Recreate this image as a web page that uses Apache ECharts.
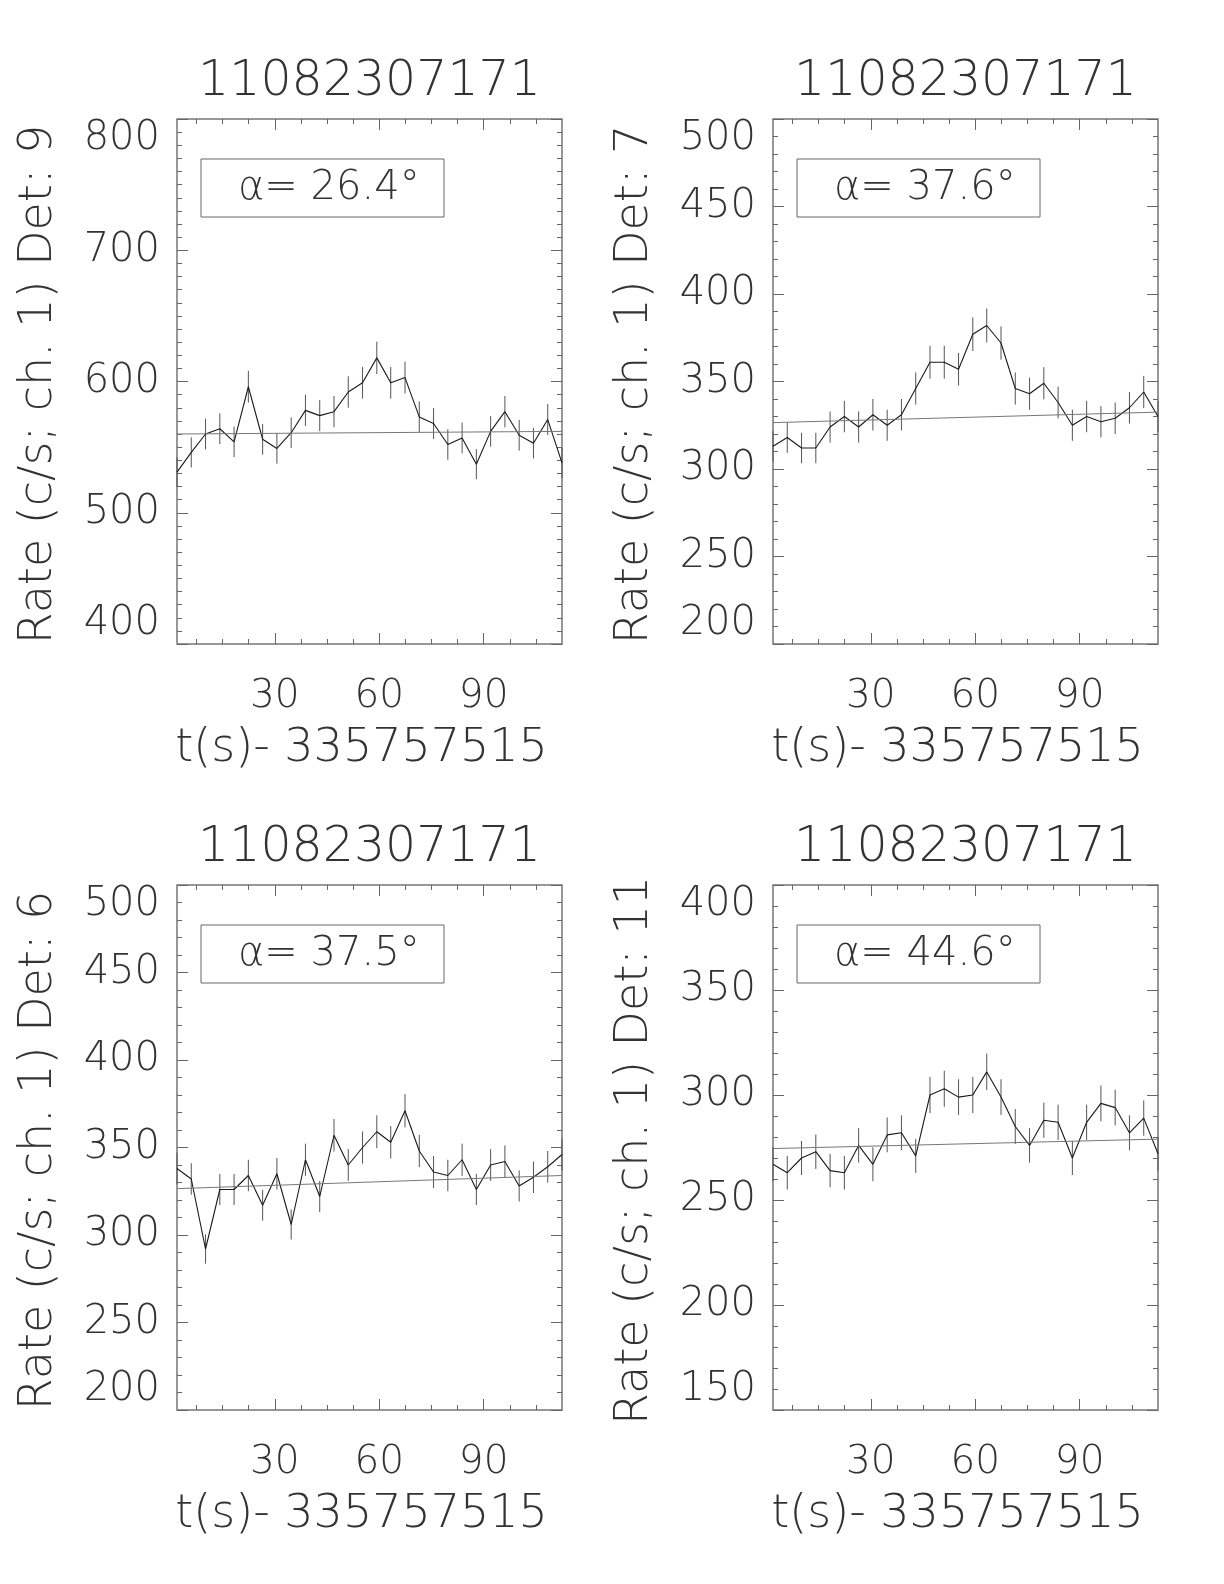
<!DOCTYPE html>
<html>
<head>
<meta charset="utf-8">
<script src="https://cdn.jsdelivr.net/npm/echarts@6.0.0/dist/echarts.min.js"></script>
<style>
  html, body { margin: 0; padding: 0; background: #fff; }
  #chart { width: 1224px; height: 1584px; }
</style>
</head>
<body>
<div id="chart"></div>
<script>
// time of each bin, s after 335757515
var tSec = [1.9, 6.0, 10.1, 14.2, 18.3, 22.4, 26.5, 30.6, 34.7, 38.8, 42.9, 47.0, 51.1, 55.2,
            59.3, 63.3, 67.4, 71.5, 75.6, 79.7, 83.8, 87.9, 92.0, 96.1, 100.2, 104.3, 108.4, 112.5];

var detectors = ['9', '7', '6', '11'];
var alphas = ['26.4', '37.6', '37.5', '44.6'];
var burstId = '11082307171';
var tZero = '335757515';

var rateDet9 = [531, 546, 560, 564, 554, 596, 556, 549, 561, 578, 574, 577, 592, 599,
                618, 599, 603, 573, 568, 552, 557, 537, 562, 577, 559, 553, 571, 538];
var errDet9 = [11.4, 11.5, 11.7, 11.7, 11.6, 12.1, 11.7, 11.6, 11.7, 11.9, 11.8, 11.9, 12.0, 12.1,
               12.3, 12.1, 12.1, 11.8, 11.8, 11.6, 11.7, 11.5, 11.7, 11.9, 11.7, 11.6, 11.8, 11.5];
var bkgDet9 = [560, 562];

var rateDet7 = [313, 318, 312, 312, 324, 330, 324, 331, 325, 331, 346, 361, 361, 357,
                377, 382, 372, 346, 343, 349, 338, 325, 330, 327, 329, 335, 344, 330];
var errDet7 = [8.7, 8.8, 8.7, 8.7, 8.9, 9.0, 8.9, 9.0, 8.9, 9.0, 9.2, 9.4, 9.4, 9.3,
               9.6, 9.7, 9.5, 9.2, 9.2, 9.2, 9.1, 8.9, 9.0, 8.9, 9.0, 9.0, 9.2, 9.0];
var bkgDet7 = [326.5, 332.5];

var rateDet6 = [338, 332, 292, 326, 326, 334, 317, 335, 306, 343, 322, 357, 340, 350,
                359, 353, 371, 348, 336, 334, 343, 326, 340, 342, 328, 333, 339, 346];
var errDet6 = [9.1, 9.0, 8.4, 8.9, 8.9, 9.0, 8.8, 9.0, 8.6, 9.2, 8.9, 9.3, 9.1, 9.2,
               9.4, 9.3, 9.5, 9.2, 9.1, 9.0, 9.2, 8.9, 9.1, 9.2, 8.9, 9.0, 9.1, 9.2];
var bkgDet6 = [326.5, 334];

var rateDet11 = [267, 263, 270, 273, 264, 263, 276, 267, 281, 282, 271, 300, 303, 299,
                 300, 311, 299, 285, 276, 288, 287, 270, 287, 296, 294, 282, 289, 272];
var errDet11 = [8.1, 8.0, 8.1, 8.2, 8.0, 8.0, 8.2, 8.1, 8.3, 8.3, 8.1, 8.6, 8.6, 8.5,
                8.6, 8.7, 8.5, 8.3, 8.2, 8.4, 8.4, 8.1, 8.4, 8.5, 8.5, 8.3, 8.4, 8.1];
var bkgDet11 = [274.5, 279];

// y axis: min, max, major step, minor splits
var yMin = [400, 200, 200, 150];
var yMax = [800, 500, 500, 400];
var yStep = [100, 50, 50, 50];
var yMinorSplit = [10, 5, 5, 5];

var xMajor = [30, 60, 90];
var xMinor = [7.5, 15, 22.5, 37.5, 45, 52.5, 67.5, 75, 82.5, 97.5, 105];

var rates = [rateDet9, rateDet7, rateDet6, rateDet11];
var errs = [errDet9, errDet7, errDet6, errDet11];
var bkgs = [bkgDet9, bkgDet7, bkgDet6, bkgDet11];

var FONT = 'DejaVu Sans';
var WEIGHT = 200;
var TXT = '#333';
var FRAME = '#777';

var panels = [
  { left: 177, top: 119 },
  { left: 773, top: 119 },
  { left: 177, top: 885 },
  { left: 773, top: 885 }
];
var W = 385, H = 525;

var grid = [], xAxis = [], yAxis = [], series = [], graphic = [];

panels.forEach(function (p, i) {
  grid.push({ left: p.left, top: p.top, width: W, height: H, show: true,
              borderColor: FRAME, borderWidth: 1.5, backgroundColor: 'transparent' });

  function xa(pos, vals, len, labels) {
    xAxis.push({
      type: 'value', gridIndex: i, position: pos, min: tSec[0], max: tSec[tSec.length - 1],
      axisLine: { show: false }, splitLine: { show: false },
      axisTick: { show: true, inside: true, length: len, customValues: vals,
                  lineStyle: { color: '#666', width: 1 } },
      axisLabel: labels ? { show: true, customValues: vals, margin: 33, fontSize: 39,
                            fontFamily: FONT, fontWeight: WEIGHT, color: TXT }
                        : { show: false }
    });
  }
  xa('bottom', xMajor, 11, true);
  xa('bottom', xMinor, 5, false);
  xa('top', xMajor, 11, false);
  xa('top', xMinor, 5, false);

  function ya(pos, labels) {
    yAxis.push({
      type: 'value', gridIndex: i, position: pos, min: yMin[i], max: yMax[i], interval: yStep[i],
      axisLine: { show: false }, splitLine: { show: false },
      axisTick: { show: true, inside: true, length: 11, lineStyle: { color: '#666', width: 1 } },
      minorTick: { show: true, splitNumber: yMinorSplit[i], length: 5,
                   lineStyle: { color: '#666', width: 1 } },
      axisLabel: labels ? { show: true, margin: 17, fontSize: 40, fontFamily: FONT,
                            fontWeight: WEIGHT, color: TXT,
                            verticalAlignMaxLabel: 'top', verticalAlignMinLabel: 'bottom' }
                        : { show: false }
    });
  }
  ya('left', true);
  ya('right', false);

  var pts = tSec.map(function (t, k) { return [t, rates[i][k], errs[i][k]]; });

  series.push({
    type: 'custom', xAxisIndex: 4 * i, yAxisIndex: 2 * i, silent: true,
    data: pts,
    encode: { x: 0, y: 1 },
    renderItem: function (params, api) {
      var x = api.value(0), y = api.value(1), e = api.value(2);
      var a = api.coord([x, y - e]);
      var b = api.coord([x, y + e]);
      return { type: 'line', shape: { x1: a[0], y1: a[1], x2: b[0], y2: b[1] },
               style: { stroke: '#555', lineWidth: 1 } };
    }
  });
  series.push({
    type: 'line', xAxisIndex: 4 * i, yAxisIndex: 2 * i, silent: true,
    data: pts.map(function (d) { return [d[0], d[1]]; }),
    showSymbol: false, symbol: 'none',
    lineStyle: { color: '#1a1a1a', width: 1.1 }
  });
  series.push({
    type: 'line', xAxisIndex: 4 * i, yAxisIndex: 2 * i, silent: true,
    data: [[tSec[0], bkgs[i][0]], [tSec[tSec.length - 1], bkgs[i][1]]],
    showSymbol: false, symbol: 'none',
    lineStyle: { color: '#777', width: 1 }
  });

  // title, axis names, alpha box
  graphic.push({ type: 'text', x: p.left + W / 2, y: p.top - 37,
    style: { text: burstId, fontSize: 49, fontFamily: FONT, fontWeight: WEIGHT, fill: TXT,
             align: 'center', verticalAlign: 'middle' } });
  graphic.push({ type: 'text', x: p.left + W / 2 - 8, y: p.top + H + 105,
    style: { text: 't(s)- ' + tZero, fontSize: 46, fontFamily: FONT, fontWeight: WEIGHT, fill: TXT,
             align: 'center', verticalAlign: 'middle' } });
  graphic.push({ type: 'text', x: p.left - 138, y: p.top + H / 2 + 3, rotation: Math.PI / 2,
    style: { text: 'Rate (c/s; ch. 1) Det: ' + detectors[i], fontSize: 46, fontFamily: FONT,
             fontWeight: WEIGHT, fill: TXT, align: 'center', verticalAlign: 'middle' } });
  graphic.push({ type: 'rect', shape: { x: p.left + 24, y: p.top + 40, width: 243, height: 58 },
    style: { fill: 'none', stroke: '#666', lineWidth: 1 } });
  graphic.push({ type: 'text', x: p.left + 61, y: p.top + 70,
    style: { text: 'α= ' + alphas[i] + '°', fontSize: 40, fontFamily: FONT, fontWeight: WEIGHT,
             fill: TXT, align: 'left', verticalAlign: 'middle' } });
});

var chart = echarts.init(document.getElementById('chart'), null, { renderer: 'canvas' });
chart.setOption({
  animation: false,
  backgroundColor: '#fff',
  grid: grid,
  xAxis: xAxis,
  yAxis: yAxis,
  series: series,
  graphic: graphic
});
</script>
</body>
</html>
